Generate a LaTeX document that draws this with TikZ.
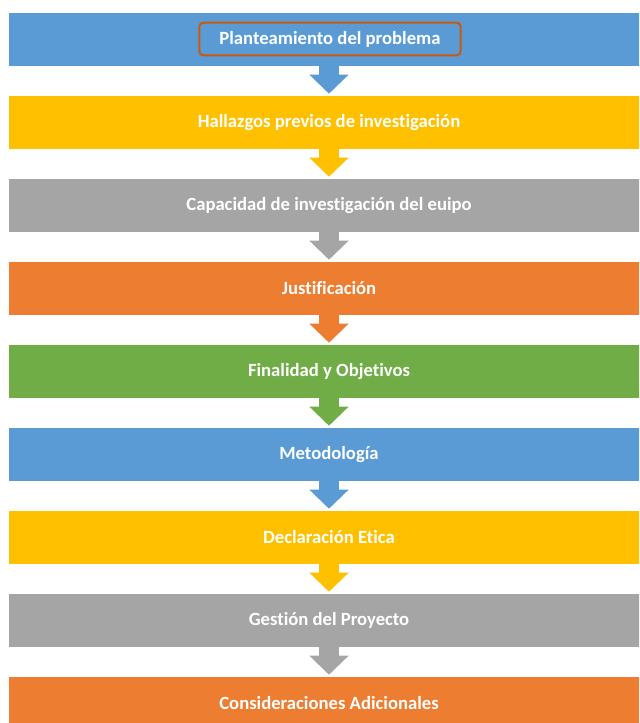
\documentclass[tikz,border=0pt]{standalone}
\usepackage{fontspec}
\setmainfont[Ligatures=CommonOff]{Carlito}
\usetikzlibrary{arrows.meta}

\definecolor{cblue}{HTML}{5B9BD5}
\definecolor{cyellow}{HTML}{FFC000}
\definecolor{cgray}{HTML}{A5A5A5}
\definecolor{corange}{HTML}{ED7D31}
\definecolor{cgreen}{HTML}{70AD47}
\definecolor{cframe}{HTML}{C55A11}

\begin{document}
\begin{tikzpicture}[x=0.75pt, y=-0.75pt,
    bar/.style ={minimum width=480pt, minimum height=39.75pt, inner sep=0pt,
                 text=white, font=\fontsize{14}{16}\selectfont\bfseries},
    framed/.style ={draw=cframe, line width=1.6pt, rounded corners=3pt,
                 minimum width=196pt, minimum height=24.5pt, inner sep=0pt,
                 text=white, font=\fontsize{14}{16}\selectfont\bfseries},
    flow/.style ={line width=15pt, shorten >=1.5pt,
                 -{Triangle[width=28.5pt, length=14.25pt]}}]
   \useasboundingbox (0,0) rectangle (639,723);
   \clip (0,0) rectangle (639,723);

   \node[bar, fill=cblue]   (A) at (329,39.5)  {};
   \node[bar, fill=cyellow] (B) at (329,122.5) {Hallazgos previos de investigación};
   \node[bar, fill=cgray]   (C) at (329,205.5) {Capacidad de investigación del euipo};
   \node[bar, fill=corange] (D) at (329,288.5) {Justificación};
   \node[bar, fill=cgreen]  (E) at (329,371.5) {Finalidad y Objetivos};
   \node[bar, fill=cblue]   (F) at (329,454.5) {Metodología};
   \node[bar, fill=cyellow] (G) at (329,537.5) {Declaración Etica};
   \node[bar, fill=cgray]   (H) at (329,620.5) {Gestión del Proyecto};
   \node[bar, fill=corange] (I) at (329,703.5) {Consideraciones Adicionales};
   \node[framed] (T) at (330,39) {Planteamiento del problema};

   \draw[flow, cblue]   (A) to (B);
   \draw[flow, cyellow] (B) to (C);
   \draw[flow, cgray]   (C) to (D);
   \draw[flow, corange] (D) to (E);
   \draw[flow, cgreen]  (E) to (F);
   \draw[flow, cblue]   (F) to (G);
   \draw[flow, cyellow] (G) to (H);
   \draw[flow, cgray]   (H) to (I);
 \end{tikzpicture}
\end{document}
